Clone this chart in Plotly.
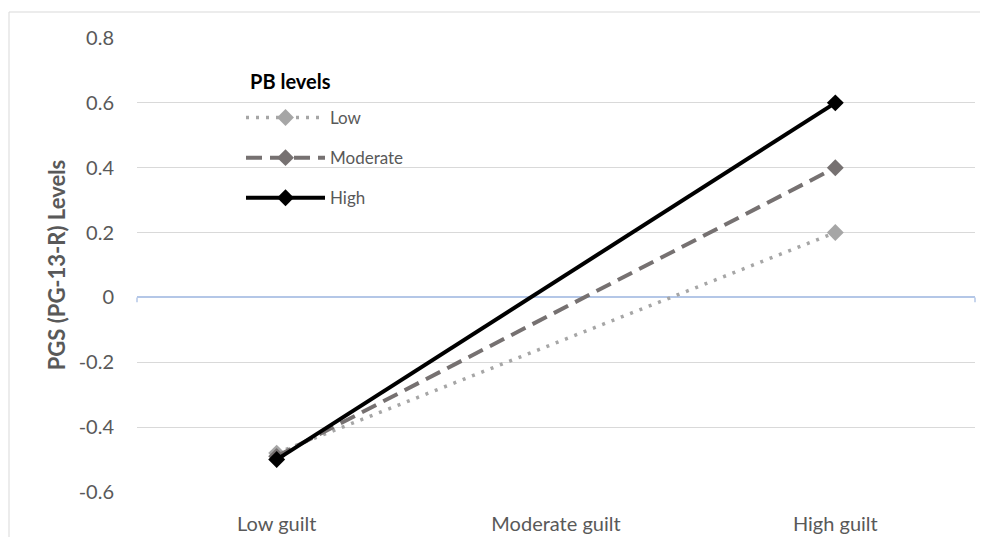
import plotly.graph_objects as go

categories = ["Low guilt", "Moderate guilt", "High guilt"]
series_names = ["Low", "Moderate", "High"]
low_vals = [-0.48, None, 0.20]
moderate_vals = [-0.49, None, 0.40]
high_vals = [-0.50, None, 0.60]
y_ticks = [-0.6, -0.4, -0.2, 0, 0.2, 0.4, 0.6, 0.8]
y_tick_labels = ["-0.6", "-0.4", "-0.2", "0", "0.2", "0.4", "0.6", "0.8"]

FONT = "Lato, 'Open Sans', sans-serif"
GRAY_TXT = "#595959"

styles = [
    dict(color="#a6a6a6", dash="3px,7px", width=3.5),
    dict(color="#767171", dash="16px,8px", width=4),
    dict(color="#000000", dash="solid", width=4),
]

fig = go.Figure()
for name, vals, st in zip(series_names, [low_vals, moderate_vals, high_vals], styles):
    fig.add_trace(go.Scatter(
        x=categories, y=vals, name=name, mode="lines+markers", connectgaps=True,
        legendgroup=name,
        line=dict(color=st["color"], dash=st["dash"], width=st["width"]),
        marker=dict(symbol="diamond", size=13, color=st["color"]),
    ))

# page body has an 8px margin; work in screen coordinates and shift
OFF = 8
W, H = 972, 529
L, T = 137 - OFF, 38 - OFF
pw, ph = 838, 454
R = W - L - pw
B = H - T - ph

def px(xs):
    return (xs - OFF - L) / pw

def py(ys):
    return 1 - (ys - OFF - T) / ph

fig.update_layout(
    width=W, height=H,
    margin=dict(l=L, r=R, t=T, b=B, pad=0, autoexpand=False),
    paper_bgcolor="white", plot_bgcolor="white",
    font=dict(family=FONT, color=GRAY_TXT, size=20),
    showlegend=True,
    legend=dict(
        x=px(241), y=py(100), xanchor="left", yanchor="top",
        bgcolor="rgba(0,0,0,0)", font=dict(size=17, color=GRAY_TXT, family=FONT),
        tracegroupgap=15, itemwidth=79,
    ),
    annotations=[dict(
        text="<b>PB levels</b>", xref="paper", yref="paper", x=px(248), y=py(81),
        xanchor="left", yanchor="middle", showarrow=False,
        font=dict(size=20, color="#000000", family=FONT),
    )],
    xaxis=dict(
        type="category", categoryorder="array", categoryarray=categories,
        range=[-0.5, 2.5],
        showgrid=False, showline=False, ticks="", zeroline=False,
        tickfont=dict(size=20, color=GRAY_TXT, family=FONT),
        ticklabelstandoff=18, automargin=False,
    ),
    yaxis=dict(
        range=[-0.6, 0.8], tickvals=y_ticks, ticktext=y_tick_labels,
        showgrid=True, gridcolor="#d9d9d9", gridwidth=1,
        zeroline=True, zerolinecolor="#b4c7e7", zerolinewidth=1.5,
        showline=False, ticks="",
        tickfont=dict(size=20, color=GRAY_TXT, family=FONT),
        ticklabelstandoff=22, automargin=False,
        title=dict(text="<b>PGS (PG-13-R) Levels</b>", font=dict(size=22, color=GRAY_TXT, family=FONT), standoff=6),
    ),
    shapes=[
        dict(type="rect", xref="paper", yref="paper",
             x0=px(9), x1=px(985), y0=-0.2, y1=py(12),
             line=dict(color="#d9d9d9", width=1), fillcolor="rgba(0,0,0,0)", layer="below"),
        dict(type="line", xref="paper", yref="y", x0=0, x1=0, y0=0, y1=-0.015,
             line=dict(color="#b4c7e7", width=1.5)),
        dict(type="line", xref="paper", yref="y", x0=1, x1=1, y0=0, y1=-0.015,
             line=dict(color="#b4c7e7", width=1.5)),
    ],
)

fig.write_html("out.html")
